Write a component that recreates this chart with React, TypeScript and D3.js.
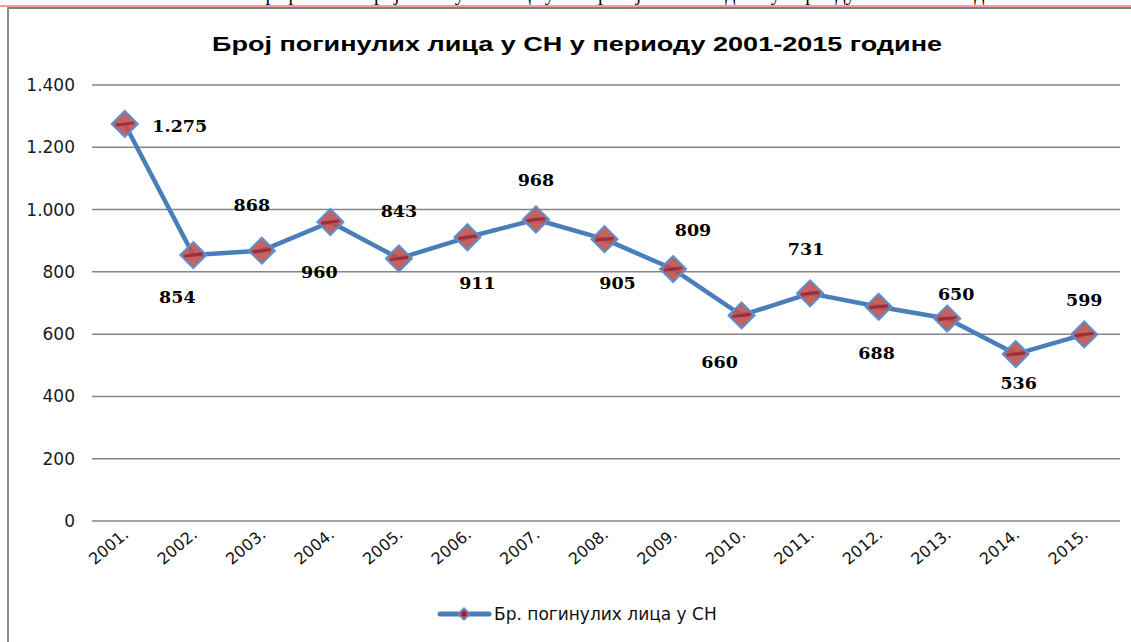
import React from "react";
import * as d3 from "d3";

const years = ["2001.", "2002.", "2003.", "2004.", "2005.", "2006.", "2007.", "2008.", "2009.", "2010.", "2011.", "2012.", "2013.", "2014.", "2015."];
const killed = [1275, 854, 868, 960, 843, 911, 968, 905, 809, 660, 731, 688, 650, 536, 599];
const yTicks = [0, 200, 400, 600, 800, 1000, 1200, 1400];
const title = "Број погинулих лица у СН у периоду 2001-2015 године";
const legendLabel = "Бр. погинулих лица у СН";
const captionAbove = "Графикон 1. Број погинулих лица у саобраћајним незгодама у периоду 2001-2015. године";

// label placement offsets (px) relative to each point
const labelDx = [55, -16, -10, -11, 0, 10, 0, 13, 20, -22, -4, -2, 9, 3, 0];
const labelDy = [2, 42, -46, 50, -48, 46, -40, 44, -39, 46, -44, 46, -25, 29, -35];

const W = 1131;
const H = 642;

const fmt = (v: number) => {
  const s = String(v);
  return s.length > 3 ? s.slice(0, s.length - 3) + "." + s.slice(-3) : s;
};

export default function App() {
  const x = d3.scaleBand<string>().domain(years).range([92, 1120]);
  const y = d3.scaleLinear().domain([0, 1400]).range([521, 85]);
  const cx = (i: number) => (x(years[i]) as number) + x.bandwidth() / 2 - 1.5;

  const line = d3
    .line<number>()
    .x((_, i) => cx(i))
    .y((d) => y(d));

  const diamond = (px: number, py: number, r: number) =>
    `M${px},${py - r}L${px + r},${py}L${px},${py + r}L${px - r},${py}Z`;

  return (
    <svg
      width={W}
      height={H}
      style={{ position: "absolute", left: 0, top: 0, background: "#fff" }}
    >
      <rect x={0} y={0} width={W} height={H} fill="#fff" />
      {/* caption above chart, cut off by the page edge as in the source */}
      <text
        x={635}
        y={0}
        textAnchor="middle"
        fontFamily="Liberation Serif, serif"
        fontSize={20}
        fill="#000"
      >
        {captionAbove}
      </text>
      {/* frame */}
      <line x1={0} x2={W} y1={6} y2={6} stroke="#e03c3c" strokeWidth={1.2} />
      <line x1={8} x2={W} y1={8} y2={8} stroke="#7f7f7f" strokeWidth={2} />
      <line x1={8} x2={8} y1={7} y2={H} stroke="#8c8c8c" strokeWidth={2} />

      {/* title */}
      <text
        x={577}
        y={51}
        textAnchor="middle"
        fontFamily="Liberation Sans, Arial, sans-serif"
        fontWeight="bold"
        fontSize={21}
        textLength={730}
        lengthAdjust="spacingAndGlyphs"
        fill="#000"
      >
        {title}
      </text>

      {/* grid + y ticks */}
      {yTicks.map((t) => (
        <g key={t}>
          <line x1={92} x2={1120} y1={y(t)} y2={y(t)} stroke="#868686" strokeWidth={1.5} />
          <text
            x={75}
            y={y(t)}
            dy="0.35em"
            textAnchor="end"
            fontFamily="DejaVu Sans, sans-serif"
            fontSize={17}
            fill="#1a1a1a"
          >
            {fmt(t)}
          </text>
        </g>
      ))}

      {/* x labels */}
      {years.map((yr, i) => (
        <text
          key={yr}
          transform={`translate(${cx(i) + 5},${536}) rotate(-40)`}
          textAnchor="end"
          fontFamily="DejaVu Sans, sans-serif"
          fontSize={16}
          fill="#111"
        >
          {yr}
        </text>
      ))}

      {/* line */}
      <path d={line(killed) as string} fill="none" stroke="#4a7ebb" strokeWidth={4.5} strokeLinejoin="round" />

      {/* markers */}
      {killed.map((v, i) => (
        <g key={i}>
          <path
            d={diamond(cx(i), y(v), 13)}
            fill="#c0504d"
            fillOpacity={0.9}
            stroke="#5b8fd0"
            strokeWidth={2}
          />
          <path
            d={`M${cx(i) - 8},${y(v) + 1}L${cx(i) + 8},${y(v) - 1}`}
            stroke="#8c1f35"
            strokeWidth={3}
            strokeLinecap="round"
            opacity={0.7}
          />
        </g>
      ))}

      {/* data labels */}
      {killed.map((v, i) => (
        <text
          key={i}
          x={cx(i) + labelDx[i]}
          y={y(v) + labelDy[i]}
          dy="0.35em"
          textAnchor="middle"
          fontFamily="DejaVu Serif, serif"
          fontWeight="bold"
          fontSize={17.5}
          fill="#000"
        >
          {fmt(v)}
        </text>
      ))}

      {/* legend */}
      <g>
        <line x1={440} x2={489} y1={614} y2={614} stroke="#4a7ebb" strokeWidth={5} strokeLinecap="round" />
        <path d={diamond(464, 614, 6)} fill="#c0504d" stroke="#5b8fd0" strokeWidth={1.5} />
        <circle cx={464} cy={614} r={2.5} fill="#8c1f35" />
        <text
          x={494}
          y={614}
          dy="0.35em"
          fontFamily="DejaVu Sans, sans-serif"
          fontSize={17}
          fill="#111"
        >
          {legendLabel}
        </text>
      </g>
    </svg>
  );
}
